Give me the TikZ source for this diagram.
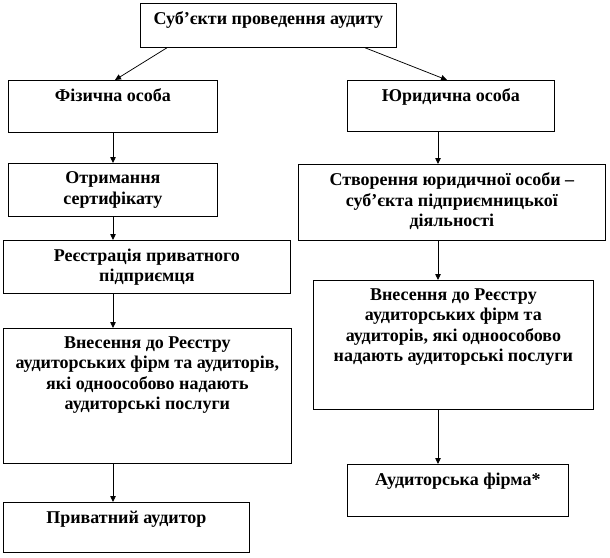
\documentclass[tikz,border=0pt]{standalone}
\usepackage{fontspec}
\setmainfont{Liberation Serif}
\usetikzlibrary{arrows.meta}
\begin{document}
\begin{tikzpicture}[x=1pt,y=-1pt,
  box/.style={draw=black,line width=0.75pt,rectangle,inner sep=0pt,anchor=north west},
  txt/.style={anchor=north,align=center,inner sep=0pt,font=\fontsize{18}{20.5}\selectfont\bfseries},
  arr/.style={line width=0.75pt,-{Triangle[length=6pt,width=5.5pt]}}]
\useasboundingbox (0,0) rectangle (610,557);
\newcommand{\mkbox}[6]{%
  \node[box,minimum width={#4-#2},minimum height={#5-#3}] (#1) at (#2,#3) {};
  \node[txt] (#1t) at ([yshift=-8.5pt]#1.north) {#6};}
\mkbox{top}{140}{3}{396}{47}{Суб’єкти проведення аудиту}
\mkbox{fiz}{8}{80}{217}{132}{Фізична особа}
\mkbox{yur}{347}{80}{554}{131}{Юридична особа}
\mkbox{otr}{8}{163}{217}{216}{Отримання\\сертифікату}
\mkbox{reg}{3}{240}{290}{293}{Реєстрація приватного\\підприємця}
\mkbox{stv}{298}{164}{605}{240}{Створення юридичної особи –\\суб’єкта підприємницької\\діяльності}
\mkbox{vnl}{3}{328}{291}{463}{Внесення до Реєстру\\аудиторських фірм та аудиторів,\\які одноособово надають\\аудиторські послуги}
\mkbox{vnr}{313}{280}{593}{409}{Внесення до Реєстру\\аудиторських фірм та\\аудиторів, які одноособово\\надають аудиторські послуги}
\mkbox{af}{347}{464}{568}{516}{Аудиторська фірма*}
\mkbox{pa}{3}{502}{249}{552}{Приватний аудитор}
\coordinate (cl) at (113,0);
\coordinate (cr) at (438,0);
\draw[arr] ([xshift=27pt]top.south west) -- ([xshift=107pt]fiz.north west);
\draw[arr] ([xshift=225pt]top.south west) -- ([xshift=100pt]yur.north west);
\draw[arr] (fiz.south -| cl) -- (otr.north -| cl);
\draw[arr] (otr.south -| cl) -- (reg.north -| cl);
\draw[arr] (reg.south -| cl) -- (vnl.north -| cl);
\draw[arr] (vnl.south -| cl) -- (pa.north -| cl);
\draw[arr] (yur.south -| cr) -- (stv.north -| cr);
\draw[arr] (stv.south -| cr) -- (vnr.north -| cr);
\draw[arr] (vnr.south -| cr) -- (af.north -| cr);
\end{tikzpicture}
\end{document}
